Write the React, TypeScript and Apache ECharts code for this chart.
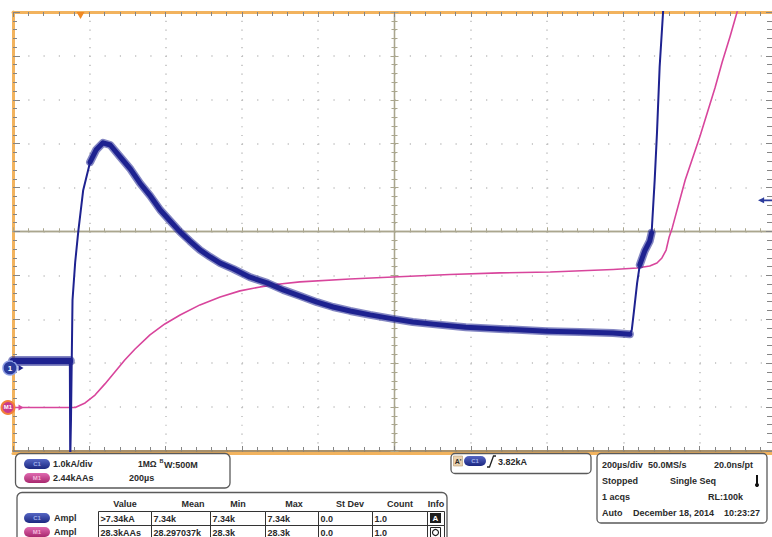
import React, { useEffect, useRef } from 'react';
import * as echarts from 'echarts';

// ---- Channel 1 current (kA, relative to CH1 ground marker) ----
const blueTimeUs = [-1000, -851, -850, -848, -844, -837, -829, -816, -798, -782, -764, -745, -719, -692, -667, -640, -614, -588, -562, -536, -510, -483, -457, -423, -379, -334, -292, -247, -203, -161, -116, -64, -4, 48, 101, 187, 276, 400, 486, 573, 617, 622, 628, 636, 643, 656, 669, 674, 682, 688, 695, 704, 708];
const blueKA = [0.16, 0.16, -2.10, -1.18, 1.55, 2.41, 3.10, 4.05, 4.69, 4.97, 5.13, 5.08, 4.81, 4.53, 4.21, 3.92, 3.60, 3.35, 3.10, 2.89, 2.69, 2.53, 2.39, 2.26, 2.07, 1.94, 1.78, 1.64, 1.50, 1.39, 1.30, 1.21, 1.12, 1.05, 1.00, 0.93, 0.89, 0.84, 0.82, 0.80, 0.77, 0.87, 1.32, 1.94, 2.35, 2.67, 2.89, 3.08, 4.28, 5.35, 6.86, 8.11, 8.84];

// ---- Math M1 (integral, kA·A·s, relative to M1 ground marker) ----
const m1TimeUs = [-1000, -837, -811, -785, -759, -733, -707, -680, -641, -602, -562, -510, -457, -405, -352, -300, -248, -117, -4, 145, 276, 408, 573, 636, 669, 688, 701, 712, 720, 728, 762, 801, 840, 859, 880, 898, 908];
const m1KAAs = [0, 0, 0.25, 0.69, 1.31, 1.97, 2.64, 3.25, 4.03, 4.64, 5.14, 5.70, 6.14, 6.48, 6.70, 6.86, 6.98, 7.14, 7.25, 7.39, 7.48, 7.53, 7.67, 7.75, 7.86, 8.03, 8.31, 8.75, 9.48, 9.98, 12.64, 15.09, 17.76, 19.20, 20.65, 21.98, 22.65];

// ---- Scales ----
const timeRangeUs = [-1000, 1000];
const timePerDivUs = 200;
const divRange = [-5, 5];
const ch1RangeKA = [-1.89, 8.11];
const m1RangeKAAs = [-2.42, 21.98];
const ch1TriggerLevelKA = 3.82;
const triggerTimeUs = -823;

// noisy (thick) portions of the CH1 trace
const blueBaseRange = [-1000, -851];
const blueBandRanges = [[-798, 617], [643, 674]];

// ---- Readout texts ----
const measureHeaders = ['Value', 'Mean', 'Min', 'Max', 'St Dev', 'Count', 'Info'];
const ch1Measure = ['>7.34kA', '7.34k', '7.34k', '7.34k', '0.0', '1.0'];
const m1Measure = ['28.3kAAs', '28.297037k', '28.3k', '28.3k', '0.0', '1.0'];
const ch1Scale = '1.0kA/div';
const m1Scale = '2.44kAAs';
const m1Span = '200µs';
const triggerLevelText = '3.82kA';
const acqRows = [
  ['200µs/div', '50.0MS/s', '20.0ns/pt'],
  ['Stopped', 'Single Seq', ''],
  ['1 acqs', '', 'RL:100k'],
  ['Auto', 'December 18, 2014', '10:23:27'],
];

const FONT = '"Liberation Sans", Arial, sans-serif';
const BLUE = '#1e2290';
const PINK = '#d8459c';
const ORANGE = '#f2b35e';
const CROSS = '#aaa68e';
const TICK = '#858585';

function txt(text: string, x: number, y: number, extra: any = {}) {
  const align = extra.align || 'left';
  return {
    type: 'text',
    x,
    y,
    z: 20,
    style: {
      text,
      fontSize: 9,
      fontWeight: 'bold',
      fontFamily: FONT,
      fill: '#2a2a2a',
      align,
      textAlign: align,
      verticalAlign: 'middle',
      textVerticalAlign: 'middle',
      ...extra,
    },
  };
}

function box(x: number, y: number, w: number, h: number, r = 5) {
  return {
    type: 'rect',
    z: 15,
    shape: { x, y, width: w, height: h, r },
    style: { fill: '#fff', stroke: '#5a5a5a', lineWidth: 1.3 },
  };
}

function pill(x: number, y: number, kind: 'c1' | 'm1', w = 26) {
  const fill =
    kind === 'c1'
      ? new echarts.graphic.LinearGradient(0, 0, 0, 1, [
          { offset: 0, color: '#5566c4' },
          { offset: 1, color: '#1c2780' },
        ])
      : new echarts.graphic.LinearGradient(0, 0, 0, 1, [
          { offset: 0, color: '#e06ab0' },
          { offset: 1, color: '#a8286e' },
        ]);
  return [
    { type: 'rect', z: 16, shape: { x, y, width: w, height: 10, r: 5 }, style: { fill } },
    txt(kind === 'c1' ? 'C1' : 'M1', x + w / 2, y + 5, {
      align: 'center',
      fontSize: 6,
      fill: kind === 'c1' ? '#9fb0ee' : '#f5b8dc',
    }),
  ];
}

function buildGraphics() {
  const els: any[] = [];
  // Box 1: vertical settings
  els.push(box(15.5, 453.5, 214.5, 34.5));
  els.push(...pill(24, 459, 'c1'));
  els.push(txt(ch1Scale, 53, 464));
  els.push(txt('1MΩ', 138, 464, { fontSize: 8.5 }));
  els.push(txt('B', 159.5, 460.5, { fontSize: 5.5 }));
  els.push(txt('W:500M', 164, 465));
  els.push(...pill(24, 473, 'm1'));
  els.push(txt(m1Scale, 53, 478));
  els.push(txt(m1Span, 129, 478));

  // Box 2: measurement table
  els.push(box(17, 492.5, 430, 60));
  const colX = [98, 151, 210, 265, 318, 372, 427, 444];
  const headerCx = [125, 193, 238, 294, 350, 400, 436];
  measureHeaders.forEach((h, i) => els.push(txt(h, headerCx[i], 503.5, { align: 'center' })));
  const rowY = [511, 525, 539];
  [ch1Measure, m1Measure].forEach((vals, r) => {
    els.push(...pill(24, rowY[r] + 2, r === 0 ? 'c1' : 'm1'));
    els.push(txt('Ampl', 54, rowY[r] + 7));
    for (let c = 0; c < colX.length - 1; c++) {
      els.push({
        type: 'rect',
        z: 16,
        shape: { x: colX[c] + 0.5, y: rowY[r] + 0.5, width: colX[c + 1] - colX[c], height: 14 },
        style: { fill: 'none', stroke: '#333', lineWidth: 1 },
      });
      if (c < vals.length) els.push(txt(vals[c], colX[c] + 2.5, rowY[r] + 7.5));
    }
  });
  // info icons
  els.push({ type: 'rect', z: 17, shape: { x: 430, y: 513, width: 11, height: 10 }, style: { fill: '#1e1e1e' } });
  els.push(txt('A', 435.5, 518.5, { align: 'center', fill: '#fff', fontSize: 8 }));
  els.push({ type: 'rect', z: 17, shape: { x: 430.5, y: 527.5, width: 10, height: 10 }, style: { fill: '#fff', stroke: '#222', lineWidth: 1 } });
  els.push({ type: 'circle', z: 18, shape: { cx: 435.5, cy: 532.5, r: 3 }, style: { fill: 'none', stroke: '#222', lineWidth: 1.2 } });

  // Box 3: trigger readout
  els.push(box(451, 453.5, 140, 20, 4));
  els.push({ type: 'rect', z: 16, shape: { x: 453.5, y: 456, width: 9, height: 10 }, style: { fill: '#ead2ae', stroke: '#b89a70', lineWidth: 0.6 } });
  els.push(txt("A'", 458, 461.5, { align: 'center', fontSize: 7 }));
  els.push(...pill(464, 456, 'c1', 22));
  els.push({
    type: 'polyline',
    z: 18,
    shape: { points: [[487, 467], [489.5, 467], [493.5, 456], [496, 456]] },
    style: { stroke: '#222', lineWidth: 1.3, fill: 'none' },
  });
  els.push(txt(triggerLevelText, 498, 461.5));

  // Box 4: acquisition readout
  els.push(box(597, 453.5, 170, 69.5, 4));
  const rowsY = [464.5, 480.5, 497, 513];
  const colsX = [[602, 648, 714], [602, 670, 0], [602, 0, 708], [602, 633, 724]];
  acqRows.forEach((row, r) => {
    row.forEach((t, c) => {
      if (t) els.push(txt(t, colsX[r][c], rowsY[r]));
    });
  });
  // thermometer glyph
  els.push({ type: 'line', z: 18, shape: { x1: 757, y1: 475, x2: 757, y2: 484 }, style: { stroke: '#111', lineWidth: 2 } });
  els.push({ type: 'circle', z: 18, shape: { cx: 757, cy: 485, r: 2 }, style: { fill: '#111' } });
  return els;
}

const inRange = (t: number, r: number[]) => t >= r[0] && t <= r[1];

export default function App() {
  const ref = useRef<HTMLDivElement>(null);
  useEffect(() => {
    document.body.style.margin = '0';
    if (!ref.current) return;
    const chart = echarts.init(ref.current, null, { renderer: 'svg' });

    const baseAxis = {
      type: 'value',
      axisLabel: { show: false },
      splitLine: { show: false },
    };
    const xCommon = { ...baseAxis, min: timeRangeUs[0], max: timeRangeUs[1], interval: timePerDivUs };
    const yCommon = { ...baseAxis, min: divRange[0], max: divRange[1], interval: 1 };

    const blueFull = blueTimeUs.map((t, i) => [t, blueKA[i]]);
    const blueBase = blueTimeUs.map((t, i) => (inRange(t, blueBaseRange) ? [t, blueKA[i]] : [t, '-']));
    const blueBand = blueTimeUs.map((t, i) =>
      blueBandRanges.some((r) => inRange(t, r)) ? [t, blueKA[i]] : [t, '-']
    );
    const m1Data = m1TimeUs.map((t, i) => [t, m1KAAs[i]]);

    const bandSeries = (name: string, data: any[], width: number, opacity: number) => ({
      name,
      type: 'line',
      yAxisIndex: 4,
      data,
      showSymbol: false,
      silent: true,
      z: 4,
      lineStyle: { color: BLUE, width, opacity, cap: 'round', join: 'round' },
    });

    chart.setOption({
      animation: false,
      backgroundColor: '#ffffff',
      grid: { left: 13, top: 12, right: -4, bottom: 86, containLabel: false, outerBoundsMode: 'none' },
      xAxis: [
        {
          ...xCommon,
          axisLine: { show: true, onZero: true, onZeroAxisIndex: 0, lineStyle: { color: CROSS, width: 1.3 } },
          axisTick: { show: true, inside: true, length: 4, lineStyle: { color: CROSS } },
          minorTick: { show: true, splitNumber: 5, length: 3, lineStyle: { color: CROSS } },
          splitLine: { show: true, lineStyle: { color: '#bdbdbd', width: 1.5, type: [1.2, 7.58] } },
        },
        {
          ...xCommon,
          axisLine: { show: true, onZero: true, onZeroAxisIndex: 0, lineStyle: { color: CROSS, width: 1.3 } },
          axisTick: { show: true, inside: false, length: 4, lineStyle: { color: CROSS } },
          minorTick: { show: true, splitNumber: 5, length: 3, lineStyle: { color: CROSS } },
        },
        {
          ...xCommon,
          position: 'top',
          axisLine: { show: true, onZero: false, lineStyle: { color: ORANGE, width: 3 } },
          axisTick: { show: true, inside: true, length: 5, lineStyle: { color: TICK } },
          minorTick: { show: true, splitNumber: 5, length: 4, lineStyle: { color: TICK } },
        },
        {
          ...xCommon,
          position: 'bottom',
          axisLine: { show: true, onZero: false, lineStyle: { color: '#8a6c3c', width: 1.6 } },
          axisTick: { show: true, inside: true, length: 5, lineStyle: { color: TICK } },
          minorTick: { show: true, splitNumber: 5, length: 4, lineStyle: { color: TICK } },
        },
        {
          ...xCommon,
          position: 'bottom',
          offset: 2,
          axisLine: { show: true, onZero: false, lineStyle: { color: ORANGE, width: 3 } },
          axisTick: { show: false },
        },
      ],
      yAxis: [
        {
          ...yCommon,
          position: 'left',
          axisLine: { show: true, onZero: true, onZeroAxisIndex: 0, lineStyle: { color: CROSS, width: 1.3 } },
          axisTick: { show: true, inside: true, length: 4, lineStyle: { color: CROSS } },
          minorTick: { show: true, splitNumber: 5, length: 3, lineStyle: { color: CROSS } },
          splitLine: { show: true, lineStyle: { color: '#bdbdbd', width: 1.5, type: [1.2, 14.06] } },
        },
        {
          ...yCommon,
          position: 'left',
          axisLine: { show: true, onZero: true, onZeroAxisIndex: 0, lineStyle: { color: CROSS, width: 1.3 } },
          axisTick: { show: true, inside: false, length: 4, lineStyle: { color: CROSS } },
          minorTick: { show: true, splitNumber: 5, length: 3, lineStyle: { color: CROSS } },
        },
        {
          ...yCommon,
          position: 'left',
          axisLine: { show: true, onZero: false, lineStyle: { color: ORANGE, width: 3 } },
          axisTick: { show: true, inside: true, length: 7, lineStyle: { color: TICK } },
          minorTick: { show: true, splitNumber: 5, length: 4, lineStyle: { color: TICK } },
        },
        {
          ...yCommon,
          position: 'right',
          axisLine: { show: true, onZero: false, lineStyle: { color: ORANGE, width: 3 } },
          axisTick: { show: true, inside: true, length: 10, lineStyle: { color: TICK } },
          minorTick: { show: true, splitNumber: 5, length: 9, lineStyle: { color: TICK } },
        },
        { type: 'value', show: false, min: ch1RangeKA[0], max: ch1RangeKA[1], axisLine: { onZero: false } },
        { type: 'value', show: false, min: m1RangeKAAs[0], max: m1RangeKAAs[1], axisLine: { onZero: false } },
      ],
      series: [
        {
          name: 'M1',
          type: 'line',
          yAxisIndex: 5,
          data: m1Data,
          showSymbol: false,
          smooth: false,
          z: 3,
          lineStyle: { color: PINK, width: 1.6, join: 'round' },
          markPoint: {
            silent: true,
            data: [
              {
                coord: [timeRangeUs[0], 0],
                symbol: 'circle',
                symbolSize: 13,
                symbolOffset: [-5, 0],
                itemStyle: { color: '#c93a8d', borderColor: '#f3803a', borderWidth: 2 },
                label: { show: true, formatter: 'M1', color: '#fff', fontSize: 6, fontWeight: 'bold', position: 'inside' },
              },
              {
                coord: [timeRangeUs[0], 0],
                symbol: 'path://M0,0L10,5L0,10Z',
                symbolSize: [5, 6],
                symbolOffset: [8, 0],
                itemStyle: { color: PINK },
                label: { show: false },
              },
              {
                coord: [triggerTimeUs, m1RangeKAAs[1]],
                symbol: 'path://M0,0L10,0L5,9Z',
                symbolSize: [8, 7],
                symbolOffset: [0, 3.5],
                itemStyle: { color: '#f08a24' },
                label: { show: false },
              },
            ],
          },
        },
        bandSeries('CH1 baseline halo', blueBase, 10, 0.55),
        bandSeries('CH1 baseline band', blueBase, 6.5, 1),
        bandSeries('CH1 halo', blueBand, 8, 0.55),
        bandSeries('CH1 band', blueBand, 5, 1),
        {
          name: 'CH1',
          type: 'line',
          yAxisIndex: 4,
          data: blueFull,
          showSymbol: false,
          z: 5,
          lineStyle: { color: BLUE, width: 2 },
          markPoint: {
            silent: true,
            data: [
              {
                coord: [timeRangeUs[0], 0],
                symbol: 'circle',
                symbolSize: 14,
                symbolOffset: [-3, 0],
                itemStyle: { color: '#2b3b9c', borderColor: '#8f9fe4', borderWidth: 1.5 },
                label: { show: true, formatter: '1', color: '#fff', fontSize: 8, fontWeight: 'bold', position: 'inside' },
              },
              {
                coord: [timeRangeUs[0], 0],
                symbol: 'path://M0,0L10,5L0,10Z',
                symbolSize: [5, 6],
                symbolOffset: [8, 0],
                itemStyle: { color: BLUE },
                label: { show: false },
              },
              {
                coord: [timeRangeUs[1], ch1TriggerLevelKA],
                symbol: 'path://M0,5L7,0L7,3.5L16,3.5L16,6.5L7,6.5L7,10Z',
                symbolSize: [14, 6],
                symbolOffset: [-11, 0],
                itemStyle: { color: '#2b3b9c' },
                label: { show: false },
              },
            ],
          },
        },
      ],
      graphic: { elements: buildGraphics() },
    });
    return () => chart.dispose();
  }, []);
  return <div ref={ref} style={{ width: 772, height: 537 }} />;
}
